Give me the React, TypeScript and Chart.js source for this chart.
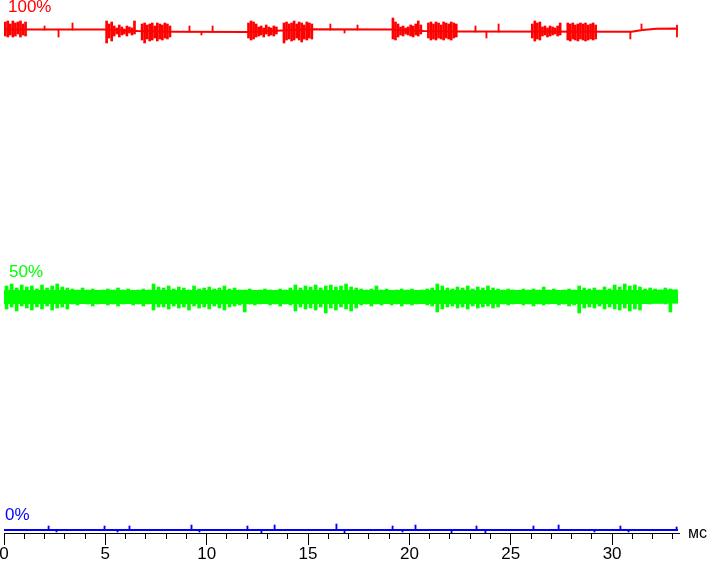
import React, { useEffect, useRef } from 'react';
import { Chart, registerables } from 'chart.js';

Chart.register(...registerables);

// ---- axis / labels ----
const X_MAX = 33.3;
const SAMPLE_MS = 0.25;
const BURST_SAMPLE_MS = 0.125;
const xTickValues = [0, 5, 10, 15, 20, 25, 30];
const xMinorTickValues = [1, 2, 3, 4, 6, 7, 8, 9, 11, 12, 13, 14, 16, 17, 18, 19, 21, 22, 23, 24, 26, 27, 28, 29, 31, 32, 33];
const unitLabel = 'мс';
const seriesLabels = ['100%', '50%', '0%'];
const seriesLabelLevels = [103.6, 50.6, 2.0];

// ---- red (100%) ----
const redBaseT = [0, 5.0, 6.6, 8.4, 12.0, 15.2, 19.1, 20.7, 22.3, 30.95, 31.5, 32.2, 33.1, 33.25];
const redBaseV = [100.1, 100.1, 99.8, 99.65, 99.6, 100.15, 100.1, 99.8, 99.7, 99.65, 100.0, 100.25, 100.3, 100.2];

// bursts: start time of each burst, samples every 0.125 ms
const redBurstStart = [0, 5.0, 6.75, 12.0, 13.75, 19.125, 20.875, 26.0, 27.75];
const redBurstHi = [
  [101.6, 101.8, 101.2, 101.8, 101.4, 101.6, 101.8, 101.2, 101.6],
  [101.8, 101.2, 101.6, 100.8, 100.4, 101.0, 100.6, 100.2, 100.8, 100.6, 100.4, 101.8],
  [101.2, 101.4, 101.0, 101.2, 101.4, 100.8, 101.4, 101.2, 101.0, 101.4, 101.2, 100.8],
  [101.4, 101.8, 101.6, 101.2, 100.6, 100.8, 100.4, 101.0, 100.6, 100.4, 100.8, 100.6],
  [101.4, 101.6, 101.2, 101.4, 101.8, 101.2, 101.6, 101.4, 101.0, 101.6, 101.4, 101.2],
  [102.4, 101.6, 101.2, 100.6, 100.8, 100.4, 100.6, 101.0, 100.8, 101.2, 101.8, 101.0],
  [101.4, 101.6, 101.2, 101.6, 101.4, 101.0, 101.6, 101.4, 101.2, 101.6, 101.4, 101.2],
  [101.2, 101.8, 101.4, 101.6, 100.6, 100.8, 100.4, 100.8, 100.6, 100.4, 100.8, 101.4],
  [101.4, 101.2, 101.4, 101.0, 101.2, 101.4, 101.2, 101.4, 101.0, 101.2, 101.4, 101.0],
];
const redBurstLo = [
  [98.8, 98.6, 99.0, 98.6, 98.8, 99.2, 98.6, 99.0, 98.8],
  [97.4, 98.4, 97.8, 98.8, 99.2, 98.6, 99.0, 99.2, 98.8, 99.4, 99.0, 99.2],
  [98.0, 97.4, 98.2, 97.8, 98.0, 98.4, 97.8, 98.2, 98.0, 98.4, 98.2, 98.6],
  [98.4, 98.0, 98.2, 98.6, 98.8, 99.0, 98.6, 99.2, 98.8, 99.0, 98.8, 99.2],
  [97.4, 98.0, 98.2, 97.8, 98.0, 98.4, 98.0, 97.6, 98.2, 98.0, 98.4, 98.2],
  [98.2, 98.0, 98.6, 99.0, 98.8, 99.2, 99.0, 98.8, 98.6, 99.0, 98.8, 99.2],
  [98.4, 98.0, 98.2, 98.0, 98.4, 98.2, 98.0, 98.4, 98.2, 98.0, 98.4, 98.6],
  [98.4, 97.8, 98.2, 98.0, 98.8, 99.0, 98.6, 98.8, 99.0, 99.2, 98.8, 99.0],
  [98.0, 97.8, 98.2, 98.0, 97.8, 98.2, 98.0, 97.8, 98.0, 98.2, 98.0, 98.2],
];

const redSpikeT = [2.0, 2.69, 3.38, 9.15, 9.74, 10.29, 16.1, 16.8, 17.44, 23.26, 23.8, 24.4, 30.9, 31.45, 33.2];
const redSpikeHi = [100.8, 100.1, 101.4, 100.8, 99.7, 100.8, 101.2, 100.1, 101.0, 100.8, 99.7, 101.2, 99.7, 101.2, 101.0];
const redSpikeLo = [100.0, 98.6, 100.0, 99.6, 99.0, 99.6, 100.0, 99.4, 100.0, 99.6, 98.4, 99.6, 98.2, 100.2, 98.6];

// ---- green (50%) : solid core + envelope per 0.25 ms sample ----
const greenCoreT = [0, 31.5, 33.25];
const greenCoreV = [46.6, 46.6, 46.7];
const greenHi = [
  48.8, 49.2, 48.4, 49.0, 48.6, 48.8, 48.2, 49.0, 48.4, 48.8, 49.2, 48.6, 48.4,
  48.2, 48.0, 48.4, 48.0, 48.2, 47.8, 48.0, 48.2, 48.0, 48.4, 48.0, 48.2, 47.8, 48.0, 48.2, 48.0,
  49.2, 48.6,
  48.4, 48.8, 48.2, 48.6, 48.4, 48.0, 48.8, 48.2, 48.4, 48.6, 48.2, 48.4, 48.8, 48.2, 48.4, 48.0,
  48.0, 48.2, 47.8, 48.0, 48.2, 48.0, 47.8, 48.2, 48.0, 48.4,
  49.0, 48.4, 48.8, 48.6, 49.0, 48.4, 48.8, 49.0, 48.6, 48.8, 49.2, 48.6, 48.4,
  48.2, 48.0, 48.2, 48.8, 48.0, 48.2, 47.8, 48.0, 48.2, 48.0, 48.2, 47.8, 48.0, 48.2, 48.4,
  49.2, 48.8,
  48.4, 48.2, 48.6, 48.4, 48.8, 48.2, 48.6, 48.4, 48.8, 48.4, 48.2,
  48.0, 48.2, 48.0, 47.8, 48.2, 48.0, 48.2, 48.0, 48.6, 48.0, 48.2, 47.8, 48.0, 48.2, 48.0,
  48.8, 48.4,
  48.2, 48.4, 48.0, 48.6, 48.2,
  49.0, 48.6, 49.2, 48.8, 49.0, 48.6,
  48.2, 48.4, 48.2, 48.0, 48.4, 48.2, 48.0,
];
const greenLo = [
  44.2, 44.6, 43.8, 44.8, 44.4, 44.0, 44.6, 44.2, 44.8, 44.0, 44.4, 44.6, 44.2,
  45.2, 45.0, 45.4, 45.2, 44.8, 45.2, 45.4, 45.0, 45.2, 44.8, 45.2, 45.4, 45.0, 45.2, 44.8, 45.2,
  44.0, 44.6,
  44.6, 44.2, 44.8, 44.4, 44.6, 44.0, 44.8, 44.4, 44.6, 44.2, 44.8, 44.4, 44.0, 44.6, 44.8, 45.0,
  43.6, 45.2, 45.0, 45.2, 45.4, 45.0, 45.2, 44.8, 45.2, 45.0,
  43.8, 44.6, 44.2, 44.4, 44.0, 44.6, 43.4, 44.4, 44.0, 44.6, 44.2, 43.8, 44.4,
  45.0, 45.2, 44.8, 45.2, 45.0, 45.4, 45.0, 45.2, 44.8, 45.2, 45.0, 45.2, 45.4, 45.0, 44.8,
  43.6, 44.2,
  44.6, 44.8, 44.4, 44.6, 44.2, 44.8, 44.4, 44.6, 44.8, 44.4, 44.6,
  45.2, 45.0, 45.2, 45.4, 45.0, 45.2, 44.8, 45.2, 45.0, 45.2, 45.4, 45.0, 45.2, 44.8, 45.0,
  43.4, 44.4,
  44.6, 44.4, 44.8, 44.2, 44.6,
  44.2, 44.0, 44.4, 43.8, 44.2, 44.0,
  45.4, 45.2, 45.6, 45.4, 45.2, 43.6, 45.4,
];

// ---- blue (0%) ----
const blueBaseT = [0, 33.25];
const blueBaseV = [0, 0];
const blueSpikeT = [2.2, 2.59, 4.96, 5.6, 6.19, 9.25, 9.64, 12.01, 12.7, 13.35, 16.4, 16.8, 19.17, 19.66, 20.3, 22.08, 23.31, 23.75, 26.12, 27.36, 29.13, 30.41, 30.81, 33.18];
const blueSpikeHi = [0.8, 0, 0.8, 0, 0.8, 1.0, 0, 0.8, 0, 1.0, 1.2, 0, 0.8, 0, 1.0, 0, 0.8, 0, 0.8, 1.0, 0, 0.8, 0, 0.6];
const blueSpikeLo = [0, -0.4, 0, -0.4, 0, 0, -0.4, 0, -0.6, 0, 0, -0.6, 0, -0.4, 0, -0.6, 0, -0.6, 0, 0, -0.4, 0, -0.4, 0];

const RED = '#ff0000';
const GREEN = '#00ff00';
const BLUE = '#0000ff';
const seriesColors = [RED, GREEN, BLUE];
const FONT = '"Liberation Sans", Arial, sans-serif';

const pts = (t: number[], v: number[]) => t.map((x, i) => ({ x, y: v[i] }));
const ranges = (t: number[], lo: number[], hi: number[]) => t.map((x, i) => ({ x, y: [lo[i], hi[i]] }));

const overlayPlugin = {
  id: 'overlay',
  afterDraw(chart: any) {
    const { ctx, chartArea, scales } = chart;
    const xs = scales.x;
    const ys = scales.y;
    ctx.save();
    ctx.strokeStyle = '#000';
    ctx.lineWidth = 1;
    ctx.beginPath();
    for (const v of xMinorTickValues) {
      const px = Math.round(xs.getPixelForValue(v) - 0.5) + 0.5;
      ctx.moveTo(px, chartArea.bottom);
      ctx.lineTo(px, chartArea.bottom + 6);
    }
    ctx.stroke();
    ctx.font = `17px ${FONT}`;
    ctx.textBaseline = 'alphabetic';
    ctx.textAlign = 'left';
    const labelX = [4, 5, 1];
    seriesLabels.forEach((s, i) => {
      ctx.fillStyle = seriesColors[i];
      ctx.fillText(s, chartArea.left + labelX[i], ys.getPixelForValue(seriesLabelLevels[i]));
    });
    ctx.fillStyle = '#000';
    ctx.font = `16px ${FONT}`;
    ctx.fillText(unitLabel, chartArea.right + 9, chartArea.bottom + 5);
    ctx.restore();
  },
};

export default function App() {
  const ref = useRef<HTMLCanvasElement>(null);
  useEffect(() => {
    if (!ref.current) return;
    Chart.defaults.font.family = FONT;
    const greenT = greenHi.map((_, i) => SAMPLE_MS * (i + 0.5));
    const burstPts: { x: number; y: number[] }[] = [];
    redBurstStart.forEach((start, b) => {
      redBurstHi[b].forEach((hi, k) => {
        burstPts.push({ x: start + BURST_SAMPLE_MS * (k + 0.5), y: [redBurstLo[b][k], hi] });
      });
    });
    const chart = new Chart(ref.current, {
      type: 'bar',
      data: {
        datasets: [
          { type: 'line', data: pts(redBaseT, redBaseV), borderColor: RED, borderWidth: 2, pointRadius: 0, tension: 0 } as any,
          { type: 'bar', data: burstPts, backgroundColor: RED, barThickness: 2, grouped: false } as any,
          { type: 'bar', data: ranges(redSpikeT, redSpikeLo, redSpikeHi), backgroundColor: RED, barThickness: 1.2, grouped: false } as any,
          { type: 'line', data: pts(greenCoreT, greenCoreV), borderColor: GREEN, borderWidth: 14, borderCapStyle: 'butt', pointRadius: 0, tension: 0 } as any,
          { type: 'bar', data: ranges(greenT, greenLo, greenHi), backgroundColor: GREEN, barThickness: 3, grouped: false } as any,
          { type: 'line', data: pts(blueBaseT, blueBaseV), borderColor: BLUE, borderWidth: 2, pointRadius: 0, tension: 0 } as any,
          { type: 'bar', data: ranges(blueSpikeT, blueSpikeLo, blueSpikeHi), backgroundColor: BLUE, barThickness: 1.2, grouped: false } as any,
        ],
      },
      options: {
        animation: false,
        responsive: false,
        layout: { padding: { left: 4, right: 28, top: 0, bottom: 0 } },
        plugins: { legend: { display: false }, tooltip: { enabled: false } },
        scales: {
          x: {
            type: 'linear',
            min: 0,
            max: X_MAX,
            offset: false,
            afterBuildTicks: (s: any) => {
              s.ticks = xTickValues.map((value) => ({ value }));
            },
            afterFit: (s: any) => {
              s.height = 28;
              s.paddingLeft = 0;
              s.paddingRight = 0;
            },
            ticks: {
              color: '#000',
              font: { size: 17, family: FONT },
              padding: -1,
              maxRotation: 0,
              autoSkip: false,
              callback: (v: any) => String(v),
            },
            grid: { drawOnChartArea: false, tickLength: 12, tickColor: '#000', tickWidth: 1, offset: false },
            border: { color: '#000', width: 1 },
          },
          y: { display: false, min: -0.6, max: 106 },
        },
      } as any,
      plugins: [overlayPlugin],
    });
    return () => chart.destroy();
  }, []);
  return (
    <div style={{ position: 'absolute', left: 0, top: 0, width: 707, height: 561, background: '#fff' }}>
      <canvas ref={ref} width={707} height={561} style={{ display: 'block' }} />
    </div>
  );
}
